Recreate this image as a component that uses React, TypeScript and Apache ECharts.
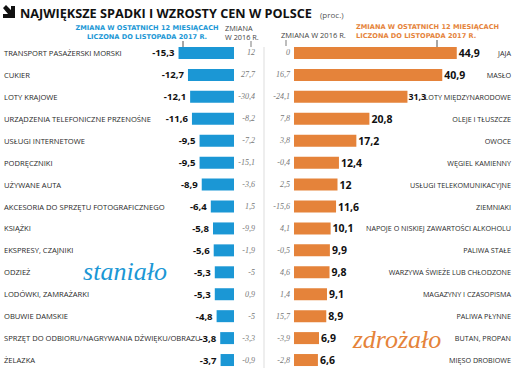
import React, { useEffect, useRef } from "react";
import * as echarts from "echarts";

const leftCategories = [
  "TRANSPORT PASAŻERSKI MORSKI",
  "CUKIER",
  "LOTY KRAJOWE",
  "URZĄDZENIA TELEFONICZNE PRZENOŚNE",
  "USŁUGI INTERNETOWE",
  "PODRĘCZNIKI",
  "UŻYWANE AUTA",
  "AKCESORIA DO SPRZĘTU FOTOGRAFICZNEGO",
  "KSIĄŻKI",
  "EKSPRESY, CZAJNIKI",
  "ODZIEŻ",
  "LODÓWKI, ZAMRAŻARKI",
  "OBUWIE DAMSKIE",
  "SPRZĘT DO ODBIORU/NAGRYWANIA DŹWIĘKU/OBRAZU",
  "ŻELAZKA",
];
const leftValues = [-15.3, -12.7, -12.1, -11.6, -9.5, -9.5, -8.9, -6.4, -5.8, -5.6, -5.3, -5.3, -4.8, -3.8, -3.7];
const left2016 = [12, 27.7, -30.4, -8.2, -7.2, -15.1, -3.6, 1.5, -9.9, -1.9, -5, 0.9, -5, -3.3, -0.9];

const rightCategories = [
  "JAJA",
  "MASŁO",
  "LOTY MIĘDZYNARODOWE",
  "OLEJE I TŁUSZCZE",
  "OWOCE",
  "WĘGIEL KAMIENNY",
  "USŁUGI TELEKOMUNIKACYJNE",
  "ZIEMNIAKI",
  "NAPOJE O NISKIEJ ZAWARTOŚCI ALKOHOLU",
  "PALIWA STAŁE",
  "WARZYWA ŚWIEŻE LUB CHŁODZONE",
  "MAGAZYNY I CZASOPISMA",
  "PALIWA PŁYNNE",
  "BUTAN, PROPAN",
  "MIĘSO DROBIOWE",
];
const rightValues = [44.9, 40.9, 31.3, 20.8, 17.2, 12.4, 12, 11.6, 10.1, 9.9, 9.8, 9.1, 8.9, 6.9, 6.6];
const right2016 = [0, 16.7, -24.1, 7.8, 3.8, -0.4, 2.5, -15.6, 4.1, -0.5, 4.6, 1.4, 15.7, -3.9, -2.8];

const BLUE = "#1b97d5";
const ORANGE = "#e5833a";
const SANS = "'Open Sans', 'Noto Sans', sans-serif";
const WIDE = "'DejaVu Sans', 'Open Sans', sans-serif";
const SERIF = "'Liberation Serif', 'DejaVu Serif', serif";

const fmt = (v: number) => String(v).replace(".", ",");

export default function App() {
  const ref = useRef<HTMLDivElement>(null);
  useEffect(() => {
    document.body.style.margin = "0";
    const chart = echarts.init(ref.current!, undefined, { renderer: "svg" });
    const top = 42;
    const height = 329;
    const catLabel = { fontFamily: SANS, fontSize: 7.6, color: "#2a2a2a" };
    const italicLabel = { fontFamily: SERIF, fontStyle: "italic", fontSize: 8, color: "#777" };
    const hidden = { show: false };
    const gridBase = { top, height, outerBoundsMode: "none", containLabel: false };
    // the "31,3" label sits tight against its long category name, as in the original
    const rightBarData = rightValues.map((v, i) =>
      i === 2 ? { value: v, label: { fontSize: 8.8, distance: 1 } } : v
    );
    chart.setOption({
      animation: false,
      backgroundColor: "#ffffff",
      grid: [
        { ...gridBase, left: 176, width: 58 },
        { ...gridBase, left: 294, width: 174 },
        { ...gridBase, left: 294, width: 217 },
      ],
      xAxis: [
        { type: "value", gridIndex: 0, min: -16, max: 0, axisLabel: hidden, axisLine: hidden, axisTick: hidden, splitLine: hidden },
        { type: "value", gridIndex: 1, min: 0, max: 48, axisLabel: hidden, axisLine: hidden, axisTick: hidden, splitLine: hidden },
        { type: "value", gridIndex: 2, min: 0, max: 48, axisLabel: hidden, axisLine: hidden, axisTick: hidden, splitLine: hidden },
      ],
      yAxis: [
        {
          type: "category", gridIndex: 0, inverse: true, data: leftCategories, position: "left",
          axisLine: hidden, axisTick: hidden,
          axisLabel: { ...catLabel, align: "left", margin: 172 },
        },
        {
          type: "category", gridIndex: 0, inverse: true, data: left2016.map(fmt), position: "right",
          axisLine: hidden, axisTick: hidden,
          axisLabel: { ...italicLabel, align: "right", margin: 21 },
        },
        {
          type: "category", gridIndex: 1, inverse: true, data: rightCategories, position: "right",
          axisLine: hidden, axisTick: hidden, axisLabel: hidden,
        },
        {
          type: "category", gridIndex: 1, inverse: true, data: right2016.map(fmt), position: "left",
          axisLine: hidden, axisTick: hidden,
          axisLabel: { ...italicLabel, align: "right", margin: 4 },
        },
        {
          type: "category", gridIndex: 2, inverse: true, data: rightCategories, position: "right",
          axisLine: hidden, axisTick: hidden,
          axisLabel: { ...catLabel, fontSize: 7.2, align: "right", margin: 0 },
        },
      ],
      series: [
        {
          type: "bar", xAxisIndex: 0, yAxisIndex: 0, data: leftValues, barWidth: 12,
          itemStyle: { color: BLUE },
          label: {
            show: true, position: "left", distance: 4, fontFamily: SANS, fontWeight: "bold",
            fontSize: 9.6, color: "#111", formatter: (p: any) => fmt(p.value),
          },
        },
        {
          type: "bar", xAxisIndex: 1, yAxisIndex: 2, data: rightBarData, barWidth: 12,
          itemStyle: { color: ORANGE },
          label: {
            show: true, position: "right", distance: 2, fontFamily: SANS, fontWeight: "bold",
            fontSize: 10.5, color: "#111", formatter: (p: any) => fmt(p.value),
          },
        },
      ],
      graphic: [
        {
          type: "polygon",
          shape: { points: [[3, 8], [6, 5], [11, 10], [11, 6], [15, 6], [15, 18], [3, 18], [3, 14], [8, 14]] },
          style: { fill: "#111" },
        },
        {
          type: "text", x: 20, y: 13,
          style: { text: "NAJWIĘKSZE SPADKI I WZROSTY CEN W POLSCE", fontFamily: SANS, fontWeight: "bold", fontSize: 12.7, fill: "#111", verticalAlign: "middle" },
        },
        {
          type: "text", x: 320, y: 14,
          style: { text: "(proc.)", fontFamily: SANS, fontSize: 8, fill: "#555", verticalAlign: "middle" },
        },
        {
          type: "text", x: 147, y: 32,
          style: { text: "ZMIANA W OSTATNICH 12 MIESIĄCACH\nLICZONA DO LISTOPADA 2017 R.", fontFamily: WIDE, fontWeight: "bold", fontSize: 6.6, lineHeight: 9, fill: BLUE, align: "center", verticalAlign: "middle" },
        },
        {
          type: "text", x: 225, y: 32,
          style: { text: "ZMIANA\nW 2016 R.", fontFamily: SANS, fontSize: 7.3, lineHeight: 9, fill: "#444", align: "left", verticalAlign: "middle" },
        },
        {
          type: "text", x: 281, y: 35,
          style: { text: "ZMIANA W 2016 R.", fontFamily: SANS, fontSize: 7.5, fill: "#444", align: "left", verticalAlign: "middle" },
        },
        {
          type: "text", x: 356, y: 31,
          style: { text: "ZMIANA W OSTATNICH 12 MIESIĄCACH\nLICZONA DO LISTOPADA 2017 R.", fontFamily: WIDE, fontWeight: "bold", fontSize: 6.6, lineHeight: 9, fill: ORANGE, align: "left", verticalAlign: "middle" },
        },
        { type: "line", shape: { x1: 183, y1: 41, x2: 183, y2: 52 }, style: { stroke: "#222", lineWidth: 0.8 } },
        { type: "circle", shape: { cx: 183, cy: 52, r: 1.3 }, style: { fill: "#222" } },
        { type: "line", shape: { x1: 437, y1: 40, x2: 437, y2: 52 }, style: { stroke: "#222", lineWidth: 0.8 } },
        { type: "circle", shape: { cx: 437, cy: 52, r: 1.3 }, style: { fill: "#222" } },
        { type: "line", shape: { x1: 251, y1: 41, x2: 251, y2: 47 }, style: { stroke: "#444", lineWidth: 0.7 } },
        { type: "line", shape: { x1: 286, y1: 40, x2: 286, y2: 46 }, style: { stroke: "#444", lineWidth: 0.7 } },
        { type: "line", shape: { x1: 264, y1: 47, x2: 264, y2: 368 }, style: { stroke: "#dddddd", lineWidth: 1 } },
        {
          type: "text", x: 125, y: 271,
          style: { text: "staniało", fontFamily: SERIF, fontStyle: "italic", fontSize: 26, fill: BLUE, align: "center", verticalAlign: "middle" },
        },
        {
          type: "text", x: 397, y: 339,
          style: { text: "zdrożało", fontFamily: SERIF, fontStyle: "italic", fontSize: 26, fill: ORANGE, align: "center", verticalAlign: "middle" },
        },
      ],
    });
    return () => chart.dispose();
  }, []);
  return <div ref={ref} style={{ width: 513, height: 389, position: "absolute", left: 0, top: 0 }} />;
}
